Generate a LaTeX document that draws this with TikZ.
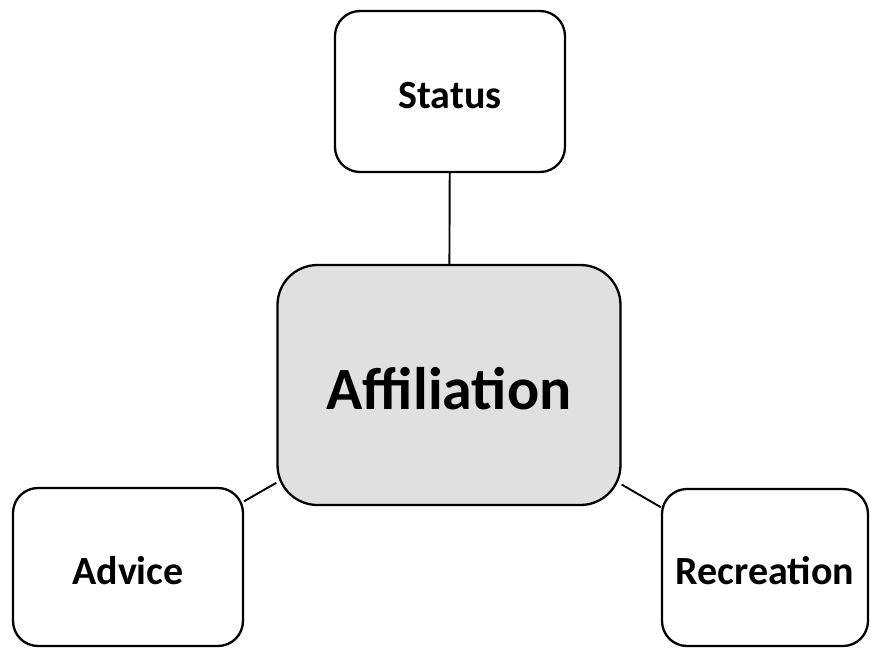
\documentclass[tikz,border=0pt]{standalone}
\usepackage{fontspec}
\setmainfont{Carlito}
\begin{document}
\begin{tikzpicture}[x=1pt,y=-1pt,
  box/.style={draw=black, line width=2.3pt, rounded corners=25pt, fill=white,
    inner sep=0pt, align=center, text height=34pt, text depth=0pt,
    font=\fontsize{40}{44}\selectfont\bfseries},
  hub/.style={box, rounded corners=40pt, fill=black!12, text height=48pt,
    font=\fontsize{60}{66}\selectfont\bfseries},
  link/.style={draw=black, line width=1.9pt}]
  \useasboundingbox (0,0) rectangle (871,648);
  % central category
  \node[hub, minimum width=343pt, minimum height=240pt] (affil) at (449,385) {Affiliation};
  % surrounding categories
  \node[box, minimum width=230pt, minimum height=161pt] (status) at (450,91.5) {Status};
  \node[box, minimum width=230pt, minimum height=158pt] (advice) at (128,567) {Advice};
  \node[box, minimum width=206pt, minimum height=157pt] (recr) at (765,567.5) {Recreation};
  % connectors
  \draw[link] (status) -- (affil);
  \draw[link] (advice) -- (affil);
  \draw[link] (recr) -- (affil);
\end{tikzpicture}
\end{document}
